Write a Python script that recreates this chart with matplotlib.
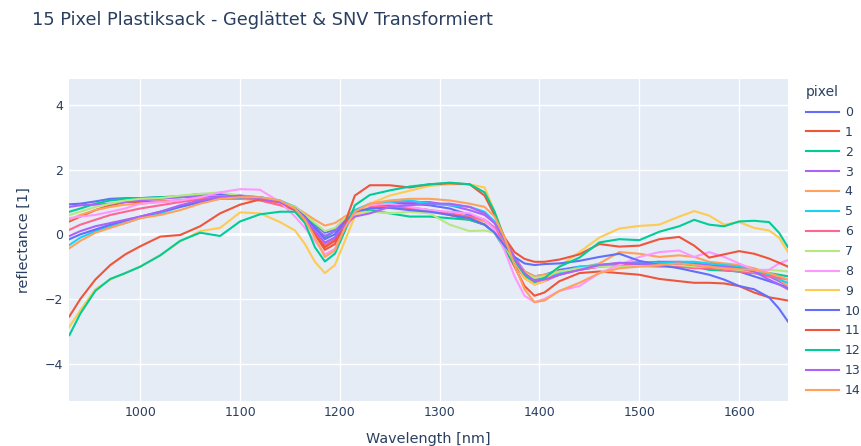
import numpy as np
import matplotlib.pyplot as plt

wl = [929, 940, 955, 970, 985, 1000, 1020, 1040, 1060, 1080, 1100, 1120, 1140, 1155,
      1165, 1175, 1185, 1195, 1205, 1215, 1230, 1250, 1270, 1290, 1310, 1330, 1345,
      1355, 1365, 1375, 1385, 1395, 1405, 1420, 1440, 1460, 1480, 1500, 1520, 1540,
      1555, 1570, 1585, 1600, 1615, 1630, 1640, 1649]

p0 = [0.93, 0.95, 1.02, 1.1, 1.12, 1.12, 1.15, 1.18, 1.25, 1.25, 1.2, 1.15, 1.0, 0.85,
      0.6, 0.3, 0.05, 0.15, 0.5, 0.75, 0.85, 0.95, 0.95, 0.9, 0.8, 0.6, 0.45, 0.2, -0.3,
      -0.8, -1.15, -1.3, -1.25, -1.1, -1.0, -0.98, -0.95, -0.95, -0.92, -0.95, -1.0,
      -1.05, -1.1, -1.15, -1.3, -1.45, -1.55, -1.65]
p1 = [0.4, 0.55, 0.75, 0.9, 1.0, 1.0, 1.02, 1.05, 1.1, 1.12, 1.15, 1.08, 0.95, 0.8,
      0.5, 0.0, -0.48, -0.3, 0.3, 0.7, 0.88, 0.9, 0.82, 0.75, 0.6, 0.45, 0.3, 0.05, -0.4,
      -1.0, -1.6, -1.9, -1.8, -1.45, -1.2, -1.15, -1.2, -1.25, -1.38, -1.45, -1.5, -1.5,
      -1.52, -1.6, -1.8, -1.95, -2.0, -2.05]
p2 = [0.7, 0.8, 0.95, 1.05, 1.1, 1.12, 1.15, 1.15, 1.2, 1.15, 1.1, 1.1, 1.0, 0.85,
      0.6, 0.25, -0.1, 0.1, 0.5, 0.72, 0.75, 0.65, 0.55, 0.55, 0.5, 0.45, 0.3, 0.05,
      -0.45, -0.95, -1.3, -1.5, -1.4, -1.25, -1.05, -0.95, -0.9, -0.88, -0.85, -0.95,
      -1.0, -1.1, -1.12, -1.15, -1.2, -1.2, -1.25, -1.3]
p3 = [0.85, 0.9, 0.92, 0.95, 1.0, 1.05, 1.1, 1.15, 1.15, 1.18, 1.15, 1.1, 0.98, 0.8,
      0.55, 0.2, -0.05, 0.1, 0.45, 0.7, 0.88, 1.0, 1.0, 1.0, 0.9, 0.75, 0.6, 0.35, -0.15,
      -0.7, -1.15, -1.4, -1.35, -1.2, -1.1, -1.0, -0.95, -0.9, -0.85, -0.85, -0.9, -0.95,
      -1.0, -1.05, -1.15, -1.3, -1.45, -1.6]
p4 = [0.45, 0.6, 0.75, 0.85, 0.92, 0.95, 1.0, 1.05, 1.1, 1.12, 1.1, 1.05, 0.95, 0.85,
      0.65, 0.45, 0.27, 0.35, 0.55, 0.7, 0.8, 0.85, 0.8, 0.7, 0.62, 0.5, 0.4, 0.2, -0.25,
      -0.75, -1.15, -1.3, -1.25, -1.15, -1.05, -0.9, -0.55, -0.6, -0.7, -0.65, -0.7,
      -0.85, -0.9, -0.95, -1.05, -1.2, -1.4, -1.6]
p5 = [-0.33, -0.1, 0.1, 0.25, 0.35, 0.5, 0.65, 0.85, 1.0, 1.1, 1.1, 1.15, 1.05, 0.85,
      0.55, 0.1, -0.3, -0.1, 0.4, 0.75, 0.95, 1.0, 1.05, 0.95, 0.9, 0.85, 0.7, 0.4, -0.2,
      -0.8, -1.25, -1.45, -1.4, -1.2, -1.0, -0.95, -0.9, -0.85, -0.9, -0.85, -0.85, -0.9,
      -0.95, -1.0, -1.1, -1.25, -1.4, -1.5]
p6 = [0.14, 0.3, 0.45, 0.6, 0.7, 0.8, 0.9, 1.0, 1.08, 1.12, 1.15, 1.05, 0.9, 0.75,
      0.45, 0.05, -0.35, -0.15, 0.35, 0.7, 0.85, 0.85, 0.8, 0.75, 0.65, 0.55, 0.45, 0.2,
      -0.3, -0.9, -1.35, -1.55, -1.45, -1.25, -1.1, -1.0, -0.95, -0.98, -1.0, -1.0,
      -1.05, -1.05, -1.1, -1.15, -1.2, -1.3, -1.35, -1.4]
p7 = [0.6, 0.7, 0.85, 0.95, 1.05, 1.1, 1.12, 1.2, 1.25, 1.3, 1.2, 1.12, 1.0, 0.85,
      0.6, 0.35, 0.1, 0.2, 0.5, 0.65, 0.7, 0.65, 0.7, 0.65, 0.3, 0.1, 0.12, 0.05, -0.35,
      -0.85, -1.2, -1.35, -1.3, -1.15, -1.05, -1.0, -1.0, -0.98, -0.95, -0.95, -1.0,
      -1.0, -1.05, -1.1, -1.15, -1.1, -1.12, -1.15]
p8 = [0.5, 0.55, 0.6, 0.7, 0.8, 0.95, 1.0, 1.05, 1.15, 1.3, 1.4, 1.38, 1.0, 0.55,
      0.2, -0.2, -0.62, -0.45, 0.15, 0.6, 0.9, 0.95, 0.85, 0.75, 0.7, 0.65, 0.45, 0.15,
      -0.5, -1.3, -1.9, -2.1, -2.0, -1.75, -1.6, -1.2, -0.95, -0.7, -0.55, -0.5, -0.7,
      -0.55, -0.7, -0.9, -1.1, -1.1, -0.9, -0.8]
p9 = [-2.86, -2.35, -1.7, -1.4, -1.2, -1.0, -0.65, -0.22, 0.1, 0.2, 0.68, 0.65, 0.38,
      0.12, -0.3, -0.85, -1.2, -0.95, -0.2, 0.55, 0.95, 1.2, 1.35, 1.5, 1.55, 1.55, 1.45,
      0.7, -0.1, -0.8, -1.35, -1.55, -1.45, -1.0, -0.55, -0.1, 0.18, 0.26, 0.3, 0.55,
      0.72, 0.58, 0.3, 0.38, 0.2, 0.12, -0.1, -0.55]
p10 = [-0.15, 0.0, 0.15, 0.3, 0.42, 0.55, 0.7, 0.85, 1.0, 1.12, 1.15, 1.15, 1.0, 0.8,
       0.55, 0.2, -0.15, 0.0, 0.4, 0.7, 0.8, 0.82, 0.75, 0.7, 0.6, 0.5, 0.3, 0.05, -0.35,
       -0.7, -0.9, -0.95, -0.92, -0.9, -0.82, -0.7, -0.6, -0.82, -0.95, -1.05, -1.15,
       -1.25, -1.4, -1.6, -1.7, -1.95, -2.3, -2.7]
p11 = [-2.54, -2.0, -1.4, -0.95, -0.62, -0.37, -0.07, -0.02, 0.25, 0.65, 0.92, 1.08,
       1.0, 0.75, 0.45, 0.0, -0.4, -0.2, 0.35, 1.2, 1.52, 1.52, 1.45, 1.55, 1.58, 1.55,
       1.2, 0.6, -0.1, -0.55, -0.76, -0.85, -0.85, -0.78, -0.62, -0.3, -0.38, -0.35,
       -0.15, -0.08, -0.35, -0.72, -0.62, -0.52, -0.6, -0.75, -0.88, -1.0]
p12 = [-3.12, -2.45, -1.75, -1.38, -1.2, -1.0, -0.65, -0.2, 0.05, -0.05, 0.4, 0.62,
       0.7, 0.7, 0.35, -0.4, -0.84, -0.6, 0.1, 0.9, 1.22, 1.36, 1.48, 1.55, 1.6, 1.55,
       1.3, 0.7, -0.15, -0.8, -1.25, -1.45, -1.35, -1.0, -0.72, -0.25, -0.15, -0.18,
       0.08, 0.25, 0.45, 0.3, 0.25, 0.4, 0.42, 0.38, 0.05, -0.4]
p13 = [-0.05, 0.1, 0.25, 0.35, 0.45, 0.55, 0.7, 0.9, 1.05, 1.15, 1.2, 1.1, 1.0, 0.8,
       0.5, 0.1, -0.25, -0.1, 0.3, 0.55, 0.65, 0.85, 0.9, 0.95, 0.95, 0.85, 0.65, 0.35,
       -0.15, -0.75, -1.2, -1.45, -1.4, -1.25, -1.1, -0.95, -0.88, -0.9, -0.95, -0.9,
       -0.95, -1.0, -1.0, -1.05, -1.15, -1.4, -1.55, -1.7]
p14 = [-0.43, -0.2, 0.05, 0.2, 0.35, 0.5, 0.6, 0.75, 0.95, 1.1, 1.15, 1.15, 1.05, 0.8,
       0.45, -0.1, -0.7, -0.5, 0.2, 0.7, 0.95, 1.05, 1.1, 1.1, 1.05, 0.95, 0.85, 0.55,
       -0.1, -0.95, -1.7, -2.1, -2.05, -1.75, -1.5, -1.2, -1.05, -1.0, -0.95, -0.9,
       -0.95, -1.0, -1.05, -1.08, -1.1, -1.2, -1.3, -1.4]

pixels = [p0, p1, p2, p3, p4, p5, p6, p7, p8, p9, p10, p11, p12, p13, p14]
labels = [str(i) for i in range(15)]

colors = ['#636EFA', '#EF553B', '#00CC96', '#AB63FA', '#FFA15A',
          '#19D3F3', '#FF6692', '#B6E880', '#FF97FF', '#FECB52']
txt = '#2a3f5f'

plt.rcParams['font.family'] = ['DejaVu Sans']

fig = plt.figure(figsize=(8.61, 4.46), dpi=100)
ax = fig.add_axes([69 / 861, 1 - 400.7 / 446, 719 / 861, 321.4 / 446])
ax.set_facecolor('#E5ECF6')

handles = []
for i, p in enumerate(pixels):
    h, = ax.plot(wl, p, color=colors[i % 10], lw=1.5, solid_joinstyle='round')
    handles.append(h)

ax.set_xlim(928.6, 1649)
ax.set_ylim(-5.15, 4.8)
ax.set_xticks([1000, 1100, 1200, 1300, 1400, 1500, 1600])
ax.set_yticks([-4, -2, 0, 2, 4])
ax.set_yticklabels(['\u22124', '\u22122', '0', '2', '4'])
ax.grid(True, color='white', lw=1)
ax.set_axisbelow(True)
ax.axhline(0, color='white', lw=2, zorder=0.5)
for s in ax.spines.values():
    s.set_visible(False)
ax.tick_params(length=0, labelsize=9, labelcolor=txt, pad=4)

ax.set_xlabel('Wavelength [nm]', fontsize=10.4, color=txt, labelpad=9)
ax.set_ylabel('reflectance [1]', fontsize=10.4, color=txt, labelpad=10)

fig.text(32 / 861, 1 - 20 / 446, '15 Pixel Plastiksack - Geglättet & SNV Transformiert',
         fontsize=12.8, color=txt, va='center', ha='left')

leg = fig.legend(handles, labels, title='pixel', loc='upper left',
                 bbox_to_anchor=(801 / 861, 1 - 80 / 446), frameon=False,
                 fontsize=9, title_fontsize=10, handlelength=2.6,
                 labelspacing=0.55, handletextpad=0.5, borderaxespad=0)
leg._legend_box.align = 'left'
for t in leg.get_texts():
    t.set_color(txt)
leg.get_title().set_color(txt)

fig.savefig('out.png', dpi=100)
